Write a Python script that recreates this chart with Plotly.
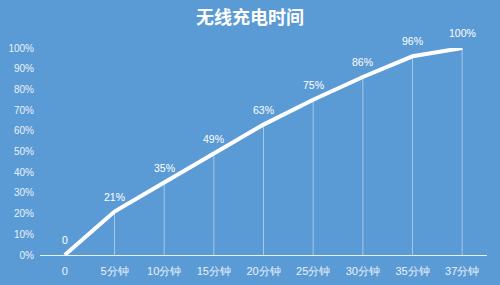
import plotly.graph_objects as go

categories = ["0", "5分钟", "10分钟", "15分钟", "20分钟", "25分钟", "30分钟", "35分钟", "37分钟"]
charge = [0, 0.21, 0.35, 0.49, 0.63, 0.75, 0.86, 0.96, 1.00]
labels = ["0", "21%", "35%", "49%", "63%", "75%", "86%", "96%", "100%"]

bg = "#5B9BD5"

fig = go.Figure()
# drop lines
fig.add_trace(go.Scatter(
    x=categories, y=charge, mode="markers",
    marker=dict(size=1, color="rgba(0,0,0,0)"),
    error_y=dict(type="data", symmetric=False, array=[0]*len(charge), arrayminus=charge,
                 width=0, thickness=1, color="rgba(255,255,255,0.45)"),
    hoverinfo="skip", showlegend=False, cliponaxis=False,
))
fig.add_trace(go.Scatter(
    x=categories, y=charge, mode="lines",
    line=dict(color="white", width=4),
    showlegend=False, cliponaxis=False,
))
for c, v, t in zip(categories, charge, labels):
    fig.add_annotation(x=c, y=v, text=t, showarrow=False, yshift=15,
                       font=dict(family="Liberation Sans", size=10.5, color="white"))

fig.update_layout(
    width=500, height=285,
    paper_bgcolor=bg, plot_bgcolor=bg,
    margin=dict(l=40, r=13, t=48, b=30, autoexpand=False),
    title=dict(text="<b>无线充电时间</b>", x=0.5, xanchor="center", y=1 - 18/285, yanchor="middle",
               font=dict(family="Noto Sans CJK SC", size=18, color="white")),
    xaxis=dict(range=[-0.5, len(categories) - 0.5], showgrid=False, zeroline=False, showline=True,
               linecolor="rgba(255,255,255,0.85)",
               linewidth=1, ticks="", ticklabelstandoff=6,
               tickfont=dict(family="Liberation Sans", size=11, color="#EAF1FA")),
    yaxis=dict(range=[0, 1], dtick=0.1, tickformat=".0%", showgrid=False, zeroline=False,
               showline=False, ticks="", ticklabelstandoff=5,
               tickfont=dict(family="Liberation Sans", size=10, color="#EAF1FA")),
)

fig.write_html("out.html")
